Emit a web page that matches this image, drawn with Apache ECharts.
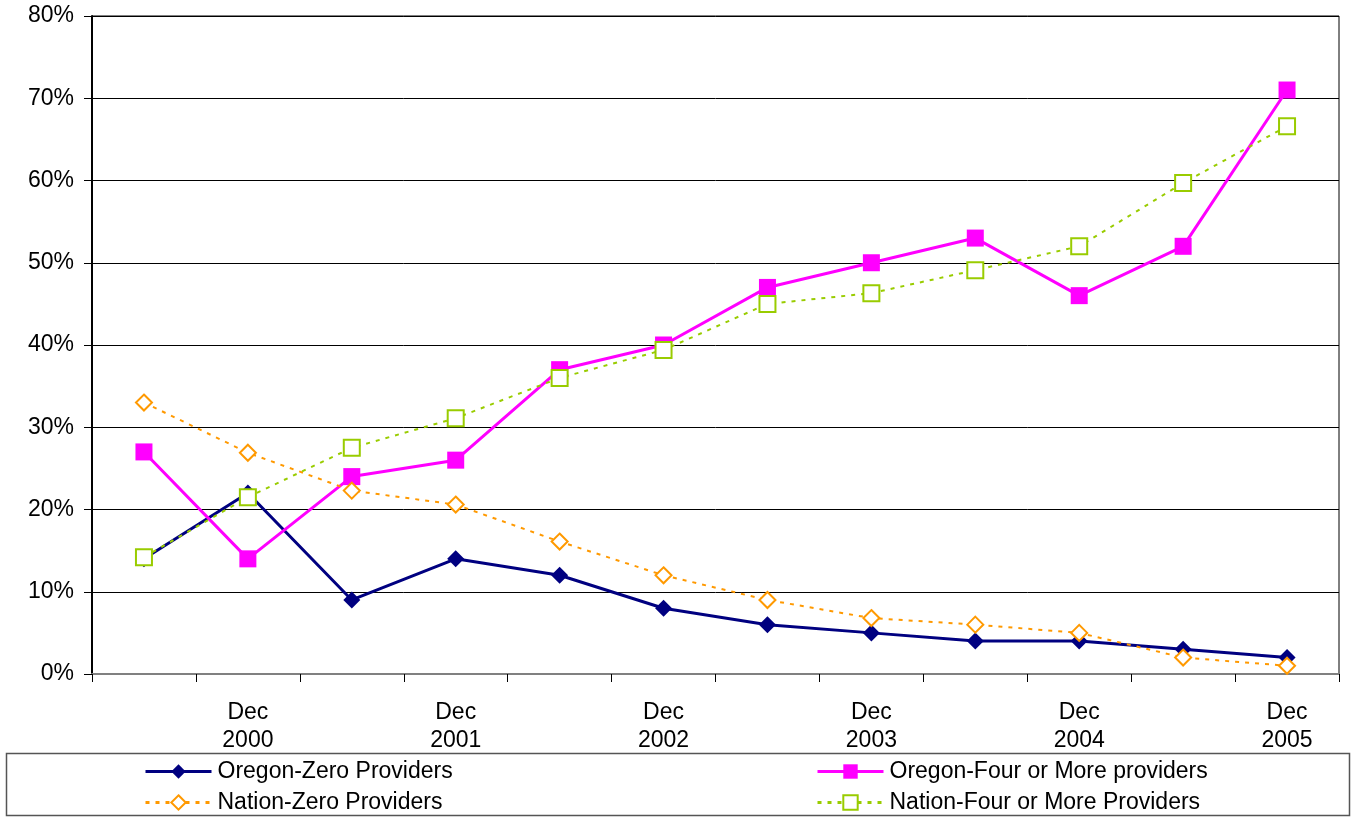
<!DOCTYPE html>
<html><head><meta charset="utf-8">
<script src="https://cdn.jsdelivr.net/npm/echarts@6/dist/echarts.min.js"></script>
<style>html,body{margin:0;padding:0;background:#fff}#c{width:1351px;height:817px}</style>
</head><body><div id="c"></div>
<script>
const categories = ['Jun 2000','Dec 2000','Jun 2001','Dec 2001','Jun 2002','Dec 2002','Jun 2003','Dec 2003','Jun 2004','Dec 2004','Jun 2005','Dec 2005'];
const tickLabels = ['', 'Dec\n2000', '', 'Dec\n2001', '', 'Dec\n2002', '', 'Dec\n2003', '', 'Dec\n2004', '', 'Dec\n2005'];
const oregonZero = [14, 22, 9, 14, 12, 8, 6, 5, 4, 4, 3, 2];
const oregonFour = [27, 14, 24, 26, 37, 40, 47, 50, 53, 46, 52, 71];
const nationZero = [33, 26.9, 22.3, 20.6, 16.1, 12, 9, 6.8, 6, 5, 2, 1];
const nationFour = [14.2, 21.5, 27.5, 31.1, 36, 39.4, 45, 46.3, 49.1, 52, 59.7, 66.6];
const yTicks = [0, 10, 20, 30, 40, 50, 60, 70, 80];

const font = 'Liberation Sans, Arial, sans-serif';
const chart = echarts.init(document.getElementById('c'));
function legendAt(name, left, top) {
  return {data:[name], left:left, top:top, itemWidth:66, itemHeight:18, itemGap:4,
    lineStyle:{width:3},
    textStyle:{fontFamily:font, fontSize:23, color:'#000', padding:[0,0,0,1]}, padding:0, selectedMode:false};
}
chart.setOption({
  animation:false,
  backgroundColor:'#fff',
  grid:{left:92, top:16, right:12, bottom:143, show:true, borderColor:'#000', borderWidth:1},
  xAxis:{type:'category', data:categories, boundaryGap:true,
    axisLine:{lineStyle:{color:'#808080', width:2}},
    axisTick:{show:true, length:8, interval:0, lineStyle:{color:'#000'}},
    axisLabel:{interval:0, margin:25, fontFamily:font, fontSize:23, color:'#000', lineHeight:28,
      formatter:(v, i)=>tickLabels[i]},
    splitLine:{show:false}},
  yAxis:{type:'value', min:yTicks[0], max:yTicks[yTicks.length-1], interval:10,
    axisLine:{show:true, lineStyle:{color:'#000', width:2}},
    axisTick:{show:true, length:8, lineStyle:{color:'#000'}},
    axisLabel:{margin:18, fontFamily:font, fontSize:23, color:'#000', formatter:'{value}%'},
    splitLine:{lineStyle:{color:'#000', width:1}}},
  legend:[
    legendAt('Oregon-Zero Providers', 144, 760),
    legendAt('Oregon-Four or More providers', 816, 760),
    legendAt('Nation-Zero Providers', 144, 791),
    legendAt('Nation-Four or More Providers', 816, 791)
  ],
  graphic:[{type:'rect', shape:{x:6.5, y:753.5, width:1343, height:62},
    style:{fill:'none', stroke:'#555', lineWidth:1.5}, silent:true}],
  series:[
    {name:'Oregon-Zero Providers', type:'line', data:oregonZero, symbol:'diamond', symbolSize:17,
      itemStyle:{color:'#000080'}, lineStyle:{color:'#000080', width:3}},
    {name:'Oregon-Four or More providers', type:'line', data:oregonFour, symbol:'rect', symbolSize:17,
      itemStyle:{color:'#FF00FF'}, lineStyle:{color:'#FF00FF', width:3}},
    {name:'Nation-Zero Providers', type:'line', data:nationZero, symbol:'emptyDiamond', symbolSize:16,
      itemStyle:{color:'#FF9900', borderWidth:2, borderColor:'#FF9900'}, lineStyle:{color:'#FF9900', width:2, type:[4,6]}},
    {name:'Nation-Four or More Providers', type:'line', data:nationFour, symbol:'emptyRect', symbolSize:16,
      itemStyle:{color:'#99CC00', borderWidth:2, borderColor:'#99CC00'}, lineStyle:{color:'#99CC00', width:2, type:[4,6]}}
  ]
});
</script></body></html>
